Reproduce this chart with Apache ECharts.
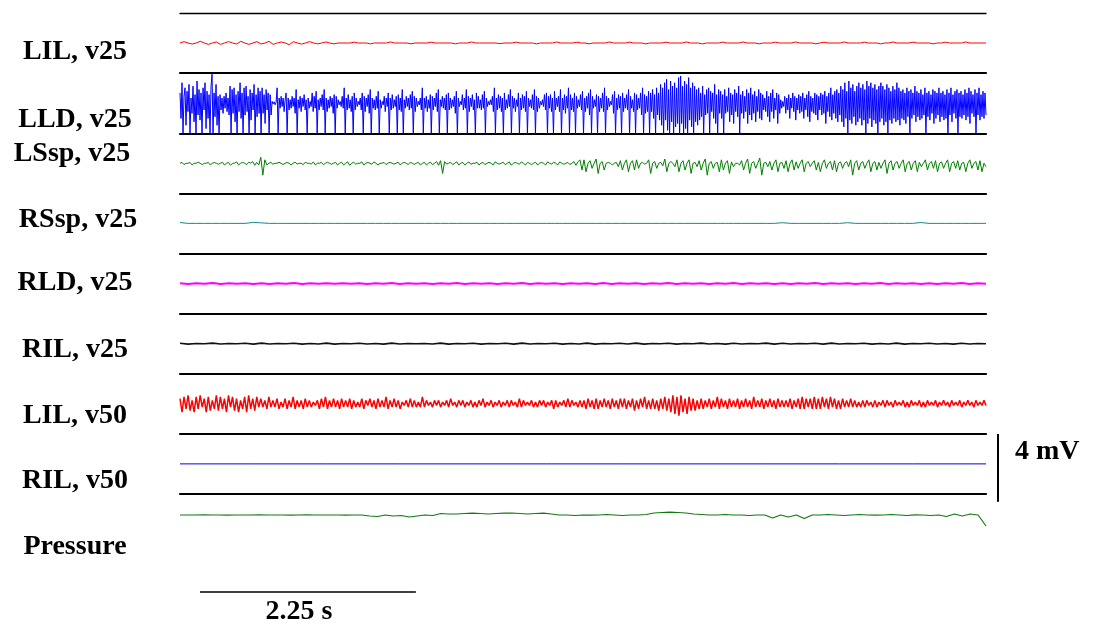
<!DOCTYPE html>
<html>
<head>
<meta charset="utf-8">
<script src="https://cdn.jsdelivr.net/npm/echarts@6/dist/echarts.min.js"></script>
<style>
  html, body { margin: 0; padding: 0; background: #fff; }
  #chart { width: 1104px; height: 632px; }
</style>
</head>
<body>
<div id="chart"></div>
<script>
// Recording length shown across the traces (seconds)
const DURATION_S = 8.4;
// Calibration bars
const TIME_BAR_S = 2.25;
const AMP_BAR_MV = 4;

const channelNames = ['LIL, v25', 'LLD, v25', 'LSsp, v25', 'RSsp, v25', 'RLD, v25',
                      'RIL, v25', 'LIL, v50', 'RIL, v50', 'Pressure'];

// EMG traces, mV, evenly sampled over DURATION_S
const lilV25 = [0,0.08,0,-0.06,0,0.1,0,-0.08,0,0.06,-0.08,0,0.08,0,-0.06,0.1,0,-0.08,0,0.08,
  -0.06,0,0.1,-0.08,0,0.06,0,-0.1,0.08,0,-0.06,0,0.08,0,-0.05,0,0.06,0,-0.05,0,
  0,0,0,0.05,0,0,0,-0.05,0,0,0,0,0.06,0,0,0,0,-0.05,0,0,
  0,0,0.05,0,0,0,0,0,-0.05,0,0,0,0.06,0,0,0,0,0,0,-0.04,
  0,0,0,0.05,0,0,0,0,-0.05,0,0,0,0,0.06,0,0,0,0,0.05,0,
  0,-0.05,0,0,0,0,0.06,0,0,0,0,0.05,0,0,0,-0.05,0,0,0,0,
  0.05,0,0,0,0,0.06,0,0,0,-0.05,0,0,0,0,0.05,0,0,0,0,0.06,
  0,0,0,-0.05,0,0,0,0.05,0,0,0,0,0.06,0,0,0,0,-0.05,0,0.05,
  0,0,0,0,0.06,0,0,0,0,0.05,0,0,0,-0.05,0,0,0.06,0,0,0,
  0,0.05,0,0,0,0,-0.05,0,0,0.05,0,0,0,0,0.06,0,0,0,0,0];

const lldV25 = [0.6,-0.9,1.2,-1.8,0.4,0.9,-1.3,0.7,-0.5,1.1,-1.8,0.3,-0.6,1.0,-1.1,0.5,-1.8,1.3,-0.7,0.8,
  -1.0,0.6,-1.8,0.9,-0.4,1.2,-1.5,0.7,-0.9,0.5,-1.8,1.0,1.7,-1.8,0.6,-0.8,1.1,-1.3,0.4,-1.8,
  0.5,-0.4,0.3,-0.6,0.4,-0.3,0.6,-0.5,0.3,-0.7,1.0,-1.8,0.8,-0.6,0.9,-1.1,0.5,-1.8,0.7,-0.5,
  1.2,-0.9,0.6,-1.8,0.9,-0.7,1.0,-0.5,0.4,-1.8,0.8,-1.0,0.6,-0.4,1.1,-1.8,0.5,-0.8,0.9,-0.6,
  0.7,-1.8,0.9,-0.6,0.5,-1.2,0.8,-0.4,0.6,-1.8,0.5,-0.7,0.1,-0.05,0.08,-0.1,0.05,0.9,-1.8,0.3,
  -0.3,0.4,-0.2,0.3,-0.5,0.2,0.6,-1.8,0.3,-0.4,0.2,-0.3,0.4,-0.2,0.3,-0.6,0.8,-1.8,0.2,-0.3,
  0.4,-0.5,0.3,-0.2,0.5,-0.4,0.2,-1.8,0.3,-0.3,0.1,-0.2,0.6,-0.5,0.4,-0.3,0.7,-1.8,0.2,-0.4,
  0.3,-0.2,0.5,-0.4,0.8,-1.8,0.3,-0.5,0.2,-0.3,0.4,-0.2,0.3,-0.6,0.5,-1.8,0.4,-0.3,0.2,-0.1,
  0.1,-0.2,0.4,-0.3,0.9,-1.8,0.3,-0.4,0.5,-0.3,0.2,-0.5,0.4,-1.8,0.6,-0.4,0.3,-0.2,0.1,-0.1,
  0.3,-0.4,0.6,-1.8,0.4,-0.5,0.3,-0.2,0.5,-0.6,0.8,-1.8,0.3,-0.3,0.2,-0.4,0.4,-0.3,0.7,-1.8,
  0.2,-0.3,0.1,-0.1,0.4,-0.5,0.3,-0.2,0.6,-1.8,0.3,-0.4,0.5,-0.3,0.2,-0.2,0.4,-1.8,0.5,-0.4,
  0.3,-0.5,0.8,-1.8,0.2,-0.3,0.4,-0.2,0.3,-0.4,0.5,-0.3,0.7,-1.8,0.4,-0.5,0.3,-0.2,0.1,-0.1,
  0.3,-0.4,0.9,-1.8,0.3,-0.3,0.4,-0.5,0.2,-0.3,0.5,-1.8,0.4,-0.4,0.3,-0.2,0.6,-0.5,0.8,-1.8,
  0.2,-0.2,0.4,-0.3,0.3,-0.4,0.5,-1.8,0.6,-0.4,0.3,-0.3,0.2,-0.2,0.4,-0.6,0.7,-1.8,0.3,-0.2,
  0.1,-0.1,0.5,-0.4,0.3,-0.3,0.8,-1.8,0.4,-0.5,0.3,-0.2,0.5,-0.4,0.2,-1.8,0.6,-0.3,0.4,-0.3,
  0.2,-0.4,0.5,-0.3,0.7,-1.8,0.3,-0.2,0.1,-0.1,0.2,-0.1,0.4,-0.5,0.9,-1.8,0.3,-0.4,0.5,-0.3,
  0.4,-0.5,0.3,-1.8,0.6,-0.4,0.2,-0.3,0.5,-0.2,0.8,-1.8,0.4,-0.3,0.3,-0.5,0.2,-0.2,0.6,-1.8,
  0.3,-0.4,0.5,-0.3,0.4,-0.5,0.7,-1.8,0.3,-0.2,0.2,-0.3,0.5,-0.4,0.8,-1.8,0.4,-0.5,0.3,-0.3,
  0.1,-0.1,0.2,-0.2,0.5,-0.4,0.6,-1.8,0.4,-0.3,0.5,-0.5,0.3,-1.8,0.7,-0.4,0.3,-0.2,0.4,-0.5,
  0.8,-1.8,0.3,-0.4,0.5,-0.6,0.4,-0.3,0.9,-1.8,0.5,-0.4,0.3,-0.5,0.6,-1.8,0.4,-0.3,0.2,-0.2,
  0.5,-0.4,0.7,-1.8,0.3,-0.5,0.4,-0.3,0.6,-0.7,0.8,-1.8,0.4,-0.3,0.2,-0.2,0.5,-1.8,0.4,-0.5,
  0.3,-0.3,0.6,-0.5,0.9,-1.8,0.4,-0.4,0.3,-0.2,0.1,-0.1,0.5,-0.6,0.7,-1.8,0.3,-0.4,0.5,-0.3,
  0.4,-1.8,0.6,-0.5,0.3,-0.3,0.5,-0.4,0.8,-1.8,0.4,-0.3,0.2,-0.5,0.6,-1.8,0.5,-0.4,0.3,-0.3,
  0.6,-0.7,0.9,-1.8,0.5,-0.6,0.4,-0.5,0.7,-1.8,0.6,-0.5,0.8,-0.9,0.5,-1.8,0.9,-0.7,0.6,-1.0,
  1.1,-1.3,0.9,-1.8,1.2,-1.0,1.4,-1.6,0.8,-1.8,1.3,-1.1,1.0,-1.8,1.2,-1.4,0.9,-1.2,1.5,-1.8,
  1.6,-1.2,1.0,-1.8,1.3,-1.5,1.1,-1.8,1.5,-1.0,0.9,-1.4,1.2,-1.8,1.0,-1.1,0.8,-1.3,0.9,-1.0,
  0.6,-0.8,1.0,-1.8,0.5,-0.7,0.8,-0.6,0.9,-1.8,0.7,-0.5,0.6,-0.9,1.1,-1.2,0.5,-1.8,0.8,-0.6,
  0.7,-0.9,0.5,-1.8,0.8,-0.6,0.4,-0.5,0.9,-1.1,0.6,-0.7,0.5,-1.2,0.8,-0.5,0.6,-0.8,1.0,-1.8,
  0.5,-0.6,0.7,-0.9,0.4,-0.5,0.8,-1.2,0.6,-0.7,0.9,-1.0,0.5,-0.6,0.7,-1.1,0.4,-0.5,0.8,-0.9,
  0.6,-1.0,0.5,-0.4,0.3,-0.5,0.7,-0.8,0.4,-1.1,0.6,-0.5,0.8,-0.9,0.3,-0.4,0.6,-1.2,0.5,-0.6,
  0.2,-0.3,0.1,-0.2,0.4,-0.6,0.3,-0.4,0.5,-0.9,0.3,-0.3,0.6,-0.5,0.4,-1.0,0.3,-0.4,0.5,-0.6,
  0.4,-0.5,0.6,-0.9,0.3,-0.4,0.5,-0.8,0.7,-1.1,0.4,-0.5,0.3,-0.6,0.6,-0.7,0.5,-1.0,0.4,-0.4,
  0.6,-0.7,0.5,-0.6,0.7,-1.2,0.4,-0.5,0.6,-0.8,0.9,-1.0,0.5,-0.6,0.7,-0.9,0.8,-1.1,0.6,-0.7,
  1.0,-1.1,0.8,-1.4,1.2,-0.9,0.7,-1.8,1.3,-1.0,0.9,-1.2,1.1,-0.8,0.7,-1.3,1.0,-1.1,1.2,-0.9,
  0.9,-1.3,1.1,-1.0,0.8,-1.8,1.3,-1.2,1.0,-0.9,1.2,-1.4,0.9,-1.0,1.1,-1.2,0.8,-1.8,1.0,-1.1,
  1.2,-0.9,1.0,-1.3,0.8,-1.1,1.1,-1.8,0.9,-1.0,0.7,-1.2,1.0,-0.9,0.8,-1.1,1.2,-1.0,0.9,-1.3,
  0.7,-0.9,0.8,-1.0,0.6,-1.2,0.9,-0.8,0.7,-1.8,0.8,-0.9,0.6,-0.7,1.0,-1.1,0.7,-0.8,0.6,-1.0,
  0.8,-0.9,0.5,-0.7,0.9,-1.8,0.6,-0.8,0.7,-1.0,0.5,-0.6,0.8,-1.2,0.7,-0.9,0.6,-0.7,0.9,-1.1,
  0.6,-0.8,0.7,-1.0,0.5,-0.9,0.8,-1.8,0.6,-0.7,0.9,-1.1,0.5,-0.6,0.7,-0.9,0.8,-1.8,0.6,-0.8,
  0.7,-0.9,0.5,-0.7,0.8,-1.0,0.6,-0.8,0.9,-1.2,0.7,-0.6,0.5,-0.8,0.8,-1.8,0.6,-0.7,0.9,-1.0,
  0.5,-0.8,0.7,-0.9,0.6,-0.7];

const lsspV25 = [0,0.05,-0.08,0,0,0.04,-0.1,0,0,0.06,0,-0.08,0,0,0.05,-0.1,0,0.04,0,-0.06,
  0,0.06,-0.1,0,0.05,-0.12,0,0,0.08,-0.1,0,0.05,0,-0.08,0.06,0,0.1,-0.12,0.05,-0.1,
  0.35,-0.7,0.2,-0.1,0,0.05,-0.06,0,0,0.06,0,-0.08,0,0.04,0,-0.1,0,0.06,-0.05,0,
  0,-0.08,0.06,0,0,-0.05,0.08,-0.1,0,0,0.05,-0.08,0,0.06,0,-0.06,0,0.05,-0.1,0,
  0.06,-0.1,0,0.08,-0.12,0,0.06,-0.05,0,0,0.08,-0.1,0,0.05,0,-0.06,0.08,0,-0.1,0,
  0,0.05,-0.08,0,0.06,0,-0.05,0,0.06,-0.1,0,0.05,0,-0.08,0.06,0,-0.06,0,0.05,-0.1,
  0,0.05,-0.1,0,0.06,-0.08,0,0.1,-0.12,0.15,-0.6,0.1,-0.05,0,0.06,-0.08,0,0.08,-0.1,0,
  0.05,-0.1,0,0.08,-0.06,0,0,0.06,-0.1,0,0.05,-0.08,0,0.06,0,-0.1,0.08,0,-0.05,0,
  0.06,-0.08,0,0.08,-0.12,0,0.05,0,-0.06,0.08,0,-0.1,0.05,0,-0.08,0,0.06,-0.1,0,0.05,
  0,-0.1,0.08,0,-0.05,0.06,0,-0.1,0.08,0,-0.06,0,0.05,-0.08,0,0.1,-0.12,0.08,0.2,-0.4,
  0.2,-0.5,0,0.15,-0.3,0,0.25,-0.6,0,0.1,-0.4,0,0.05,0,-0.1,0,0.05,-0.2,0.15,-0.4,
  0,0.2,-0.5,0,0.15,-0.4,0.2,-0.3,0,0.05,-0.05,0,0.2,-0.6,0,0.1,-0.3,0,0.05,-0.15,
  0.25,-0.5,0,0.1,0,-0.2,0.2,-0.5,0,0.15,-0.4,0,0.2,-0.6,0,0.05,-0.2,0.15,-0.4,0,
  0.25,-0.7,0,0.1,-0.3,0,0.05,-0.5,0.2,-0.4,0,0.15,-0.6,0.08,-0.2,0,0,-0.1,0.15,-0.4,
  0,0.25,-0.6,0,0.1,-0.3,0,0.3,-0.7,0,0.05,-0.2,0.1,-0.4,0,0.2,-0.5,0,0.05,-0.3,
  0.15,-0.5,0,0.2,-0.4,0.08,-0.3,0,0.2,-0.5,0,0.1,-0.2,0,0.15,-0.4,0.05,-0.5,0,0.2,
  -0.3,0,0.1,-0.4,0.15,-0.5,0,0.08,-0.3,0,0.1,-0.2,0.2,-0.7,0,0.15,-0.4,0,0.1,-0.3,
  0,0.2,-0.5,0,0.1,-0.4,0.05,-0.3,0,0.2,-0.6,0,0.15,-0.4,0,0.1,-0.3,0,0.2,-0.5,
  0,0.1,-0.4,0,0.15,-0.5,0.05,-0.2,0,0.2,-0.4,0,0.1,-0.3,0.15,-0.5,0,0.08,-0.3,0,
  0.2,-0.5,0,0.1,-0.3,0.15,-0.4,0,0.05,-0.5,0,0.2,-0.3,0,0.1,-0.4,0.15,-0.5,0,-0.2];

const rsspV25 = [0.05,0,0,0,0,0,0,0,0,0.06,0.03,0,0,0,0,0,0,0,0,0,
  0,0,0,0,0,0,0,0,0,0,0,0,0,0,0,0,0,0,0,0,
  0,0,0,0,0,0,0,0,0,0,0,0,0,0,0,0,0,0,0,0,
  0,0,0,0,0,0,0,0,0,0,0,0,0,0,0.04,0,0,0,0,0,
  0,0,0.04,0,0,0,0,0,0,0,0,0.05,0,0,0,0,0,0,0,0];

const rldV25 = [0.02,-0.03,0.01,-0.02,0.03,-0.03,0.01,-0.02,0.02,-0.03,0.01,-0.03,0.02,-0.01,0.03,-0.03,0.01,-0.02,0.02,-0.01,
  0.01,-0.01,0.02,-0.03,0.01,-0.02,0.03,-0.03,0.01,-0.02,0.02,-0.03,0.01,-0.02,0.03,-0.03,0.01,-0.01,0.02,-0.03,
  0.01,-0.02,0.03,-0.03,0.01,-0.02,0.02,-0.03,0.01,-0.01,0.02,-0.03,0.03,-0.03,0.01,-0.02,0.02,-0.03,0.01,-0.02,
  0.03,-0.03,0.01,-0.02,0.02,-0.03,0.01,-0.01,0.03,-0.03,0.02,-0.02,0.01,-0.03,0.02,-0.03,0.01,-0.02,0.03,-0.03,
  0.01,-0.02,0.02,-0.03,0.01,-0.01,0.03,-0.03,0.02,-0.02,0.01,-0.03,0.02,-0.03,0.01,-0.02,0.03,-0.03,0.01,-0.02];

const rilV25 = [0.02,-0.03,0.01,-0.01,0.03,-0.02,0.01,-0.01,0.02,-0.03,0.03,-0.02,0.01,-0.01,0.02,-0.03,0.01,-0.02,0.03,-0.03,
  0.01,-0.01,0.02,-0.02,0.01,-0.03,0.03,-0.02,0.01,-0.01,0.01,-0.02,0.03,-0.03,0.01,-0.01,0.02,-0.03,0.01,-0.01,
  0.02,-0.03,0.03,-0.02,0.01,-0.01,0.02,-0.03,0.01,-0.02,0.03,-0.03,0.01,-0.01,0.02,-0.02,0.03,-0.03,0.01,-0.01,
  0.02,-0.03,0.01,-0.01,0.03,-0.02,0.01,-0.03,0.02,-0.02,0.01,-0.01,0.03,-0.03,0.02,-0.02,0.01,-0.01,0.02,-0.03,
  0.03,-0.02,0.01,-0.01,0.02,-0.03,0.01,-0.02,0.03,-0.03,0.01,-0.01,0.02,-0.02,0.01,-0.03,0.02,-0.02,0.01,-0.01];

const lilV50 = [0.3,-0.5,0.4,-0.3,0.5,-0.4,0.2,-0.5,0.4,-0.3,0.5,-0.2,0.3,-0.5,0.4,-0.4,0.2,-0.3,0.5,-0.4,
  0.4,-0.3,0.3,-0.5,0.5,-0.2,0.4,-0.4,0.3,-0.5,0.2,-0.3,0.4,-0.5,0.5,-0.3,0.3,-0.4,0.4,-0.2,
  0.3,-0.2,0.2,-0.3,0.4,-0.2,0.2,-0.2,0.3,-0.3,0.1,-0.2,0.3,-0.3,0.2,-0.2,0.4,-0.3,0.2,-0.2,
  0.2,-0.3,0.3,-0.2,0.2,-0.2,0.1,-0.1,0.2,-0.3,0.3,-0.2,0.4,-0.3,0.2,-0.2,0.3,-0.2,0.2,-0.3,
  0.3,-0.2,0.2,-0.2,0.3,-0.3,0.2,-0.2,0.1,-0.2,0.3,-0.3,0.2,-0.1,0.3,-0.2,0.2,-0.3,0.3,-0.2,
  0.2,-0.2,0.4,-0.3,0.2,-0.2,0.3,-0.2,0.2,-0.3,0.1,-0.1,0.2,-0.2,0.3,-0.2,0.2,-0.2,0.1,-0.2,
  0.4,-0.2,0.2,-0.1,0.1,-0.2,0.2,-0.1,0.2,-0.2,0.1,-0.1,0.2,-0.2,0.3,-0.1,0.1,-0.2,0.2,-0.1,
  0.2,-0.2,0.1,-0.1,0.2,-0.2,0.1,-0.2,0.2,-0.1,0.3,-0.2,0.1,-0.1,0.2,-0.2,0.1,-0.1,0.2,-0.2,
  0.1,-0.1,0.2,-0.2,0.2,-0.1,0.1,-0.2,0.3,-0.2,0.2,-0.1,0.1,-0.1,0.2,-0.2,0.1,-0.2,0.2,-0.1,
  0.2,-0.2,0.1,-0.1,0.2,-0.3,0.2,-0.2,0.1,-0.1,0.2,-0.2,0.3,-0.2,0.2,-0.1,0.1,-0.2,0.2,-0.2,
  0.2,-0.3,0.3,-0.2,0.2,-0.3,0.3,-0.3,0.2,-0.2,0.3,-0.2,0.2,-0.3,0.3,-0.2,0.2,-0.3,0.3,-0.2,
  0.3,-0.3,0.2,-0.2,0.3,-0.4,0.2,-0.3,0.3,-0.2,0.4,-0.3,0.2,-0.3,0.3,-0.3,0.2,-0.4,0.3,-0.3,
  0.4,-0.4,0.3,-0.5,0.5,-0.6,0.4,-0.7,0.5,-0.5,0.3,-0.6,0.4,-0.4,0.3,-0.4,0.2,-0.3,0.3,-0.3,
  0.2,-0.2,0.3,-0.3,0.2,-0.2,0.4,-0.3,0.3,-0.2,0.2,-0.3,0.3,-0.2,0.2,-0.2,0.3,-0.3,0.2,-0.2,
  0.3,-0.2,0.2,-0.3,0.4,-0.2,0.2,-0.2,0.3,-0.3,0.2,-0.2,0.3,-0.2,0.2,-0.3,0.3,-0.2,0.2,-0.2,
  0.2,-0.2,0.3,-0.3,0.2,-0.2,0.3,-0.3,0.4,-0.3,0.3,-0.2,0.3,-0.3,0.4,-0.3,0.3,-0.3,0.4,-0.2,
  0.3,-0.3,0.4,-0.2,0.3,-0.3,0.2,-0.3,0.3,-0.2,0.2,-0.2,0.3,-0.2,0.2,-0.2,0.1,-0.2,0.2,-0.2,
  0.2,-0.1,0.1,-0.2,0.2,-0.2,0.1,-0.1,0.2,-0.2,0.2,-0.1,0.1,-0.2,0.2,-0.1,0.1,-0.1,0.2,-0.2,
  0.1,-0.2,0.2,-0.1,0.1,-0.1,0.2,-0.2,0.1,-0.2,0.2,-0.1,0.1,-0.1,0.2,-0.2,0.1,-0.1,0.2,-0.1,
  0.1,-0.2,0.2,-0.1,0.1,-0.1,0.2,-0.2,0.1,-0.1,0.2,-0.1,0.1,-0.2,0.2,-0.1,0.1,-0.1,0.2,-0.1];

const rilV50 = [0,0,0,0,0,0,0,0,0,0,0,0];

// Bladder pressure, arbitrary units
const pressure = [39,39,39,39.2,39,39,38.8,39,39,39,39.2,39,39,39,38.8,39,39.2,39,39,39,39,38.8,39,39,
  38,37.5,39,38,38.5,37,38,39,38.5,
  40.5,40,40,40.5,40.8,40.5,40,40.5,40.8,41,40.5,40,40.5,40.8,40,
  39,39,38.5,39,38.8,39,39.5,39,38.5,39,39,39.5,
  41,41.5,41.8,41.5,41,
  40,39.5,39,39,39.5,39,39,38.5,39,39,
  36,39,37,39,35.5,39,
  39,39.5,39,38.5,39,39.5,39,38.8,39,39.5,39,38.5,39.2,39,38.5,
  39,37.5,40,38,40,39,28];

const traces = [lilV25, lldV25, lsspV25, rsspV25, rldV25, rilV25, lilV50, rilV50, pressure];
const traceColors = ['#ff0000', '#0000ff', '#008000', '#138a8a', '#ff00ff', '#111111', '#ff0000', '#0000ee', '#117a11'];
const traceWidths = [1, 1, 1, 1, 2, 1.6, 1.5, 1, 1.2];

// Layout (pixels)
const PLOT_LEFT = 180, PLOT_RIGHT = 118, BAND_TOP = 13, BAND_H = 60.125;
const MV_HALF_RANGE = 1.765;
const labelCenters = [[75, 52], [75, 120], [72, 154], [78, 220], [75, 283], [75, 350], [75, 416], [75, 481], [75, 547]];
const FONT = 'bold 28px "Liberation Serif", "Times New Roman", serif';

const grids = [], xAxes = [], yAxes = [], series = [];
traces.forEach((vals, k) => {
  grids.push({ left: PLOT_LEFT, right: PLOT_RIGHT, top: BAND_TOP + BAND_H * k, height: 60 });
  xAxes.push({
    gridIndex: k, type: 'value', min: 0, max: DURATION_S, position: 'top',
    axisLine: { show: true, onZero: false, lineStyle: { color: '#000', width: k === 0 ? 1.3 : 2.2 } },
    axisTick: { show: false }, axisLabel: { show: false }, splitLine: { show: false }
  });
  const isPressure = k === traces.length - 1;
  yAxes.push({
    gridIndex: k, type: 'value', show: false,
    min: isPressure ? 0 : -MV_HALF_RANGE, max: isPressure ? 60 : MV_HALF_RANGE
  });
  series.push({
    name: channelNames[k], type: 'line', xAxisIndex: k, yAxisIndex: k,
    data: vals.map((v, i) => [i * DURATION_S / (vals.length - 1), v]),
    showSymbol: false, symbol: 'none', clip: true, silent: true,
    lineStyle: { color: traceColors[k], width: traceWidths[k] }
  });
});

const chart = echarts.init(document.getElementById('chart'), null, { renderer: 'canvas' });
chart.setOption({
  animation: false,
  backgroundColor: '#ffffff',
  grid: grids, xAxis: xAxes, yAxis: yAxes, series: series
});

// Channel names and calibration bars sized through the axes
const ampRef = 7;
const pxPerS = chart.convertToPixel({ xAxisIndex: ampRef }, TIME_BAR_S) - chart.convertToPixel({ xAxisIndex: ampRef }, 0);
const ampTop = BAND_TOP + BAND_H * ampRef;
const pxPerMv = (chart.convertToPixel({ yAxisIndex: ampRef }, 0) - chart.convertToPixel({ yAxisIndex: ampRef }, AMP_BAR_MV)) / AMP_BAR_MV;
const ampLen = AMP_BAR_MV * pxPerMv;
const timeX0 = 200, timeY = 592;

const graphics = channelNames.map((name, k) => ({
  type: 'text', silent: true,
  style: { text: name, x: labelCenters[k][0], y: labelCenters[k][1], font: FONT, fill: '#000',
           textAlign: 'center', textVerticalAlign: 'middle' }
}));
graphics.push(
  { type: 'line', silent: true, shape: { x1: 998, y1: ampTop, x2: 998, y2: ampTop + ampLen },
    style: { stroke: '#000', lineWidth: 2 } },
  { type: 'text', silent: true,
    style: { text: AMP_BAR_MV + ' mV', x: 1015, y: 452, font: FONT, fill: '#000', textAlign: 'left', textVerticalAlign: 'middle' } },
  { type: 'line', silent: true, shape: { x1: timeX0, y1: timeY, x2: timeX0 + pxPerS, y2: timeY },
    style: { stroke: '#000', lineWidth: 1.4 } },
  { type: 'text', silent: true,
    style: { text: TIME_BAR_S + ' s', x: 299, y: 612, font: FONT, fill: '#000', textAlign: 'center', textVerticalAlign: 'middle' } }
);
chart.setOption({ graphic: graphics });
</script>
</body>
</html>
